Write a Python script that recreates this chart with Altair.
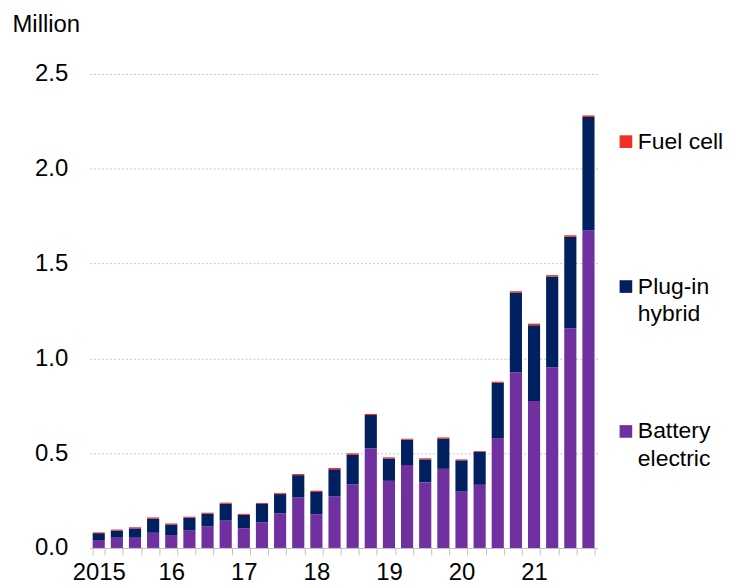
import altair as alt
import pandas as pd

# ---- data (millions of vehicles, quarterly) ----
quarters = [
    "2015Q1", "2015Q2", "2015Q3", "2015Q4",
    "2016Q1", "2016Q2", "2016Q3", "2016Q4",
    "2017Q1", "2017Q2", "2017Q3", "2017Q4",
    "2018Q1", "2018Q2", "2018Q3", "2018Q4",
    "2019Q1", "2019Q2", "2019Q3", "2019Q4",
    "2020Q1", "2020Q2", "2020Q3", "2020Q4",
    "2021Q1", "2021Q2", "2021Q3", "2021Q4",
]
battery_electric = [
    0.042, 0.054, 0.054, 0.080,
    0.068, 0.094, 0.113, 0.144,
    0.104, 0.135, 0.182, 0.266,
    0.177, 0.271, 0.335, 0.526,
    0.354, 0.437, 0.347, 0.417,
    0.297, 0.333, 0.578, 0.927,
    0.775, 0.953, 1.157, 1.674,
]
plug_in_hybrid = [
    0.036, 0.038, 0.049, 0.075,
    0.056, 0.066, 0.068, 0.089,
    0.071, 0.097, 0.102, 0.118,
    0.118, 0.144, 0.156, 0.175,
    0.118, 0.134, 0.120, 0.160,
    0.165, 0.174, 0.293, 0.420,
    0.400, 0.479, 0.484, 0.599,
]
fuel_cell = [
    0.004, 0.005, 0.006, 0.006,
    0.005, 0.005, 0.005, 0.006,
    0.005, 0.005, 0.005, 0.006,
    0.007, 0.007, 0.008, 0.006,
    0.006, 0.005, 0.006, 0.006,
    0.005, 0.004, 0.006, 0.007,
    0.008, 0.007, 0.008, 0.008,
]
year_label_quarters = ["2015Q1", "2016Q1", "2017Q1", "2018Q1", "2019Q1", "2020Q1", "2021Q1"]
year_labels = ["2015", "16", "17", "18", "19", "20", "21"]
y_ticks = [0.0, 0.5, 1.0, 1.5, 2.0, 2.5]

series_names = ["Battery electric", "Plug-in hybrid", "Fuel cell"]
series_colors = ["#7030A0", "#002060", "#EE3124"]
legend_order = ["Fuel cell", "Plug-in hybrid", "Battery electric"]
legend_text = ["Fuel cell", "Plug-in\nhybrid", "Battery\nelectric"]

# ---- long table ----
rows = []
for i, q in enumerate(quarters):
    for k, (name, vals) in enumerate(zip(series_names, [battery_electric, plug_in_hybrid, fuel_cell])):
        rows.append({"quarter": q, "type": name, "value": vals[i], "order": k})
df = pd.DataFrame(rows)

label_expr = "''"
for q, lab in reversed(list(zip(year_label_quarters, year_labels))):
    label_expr = f"datum.value == '{q}' ? '{lab}' : ({label_expr})"

FONT = "Liberation Sans"
FS = 24
LEG_FS = 23
color_scale = alt.Scale(domain=series_names, range=series_colors)

bars = alt.Chart(df).mark_bar().encode(
    x=alt.X(
        "quarter:N",
        sort=quarters,
        scale=alt.Scale(paddingInner=0.33, paddingOuter=0.165),
        axis=alt.Axis(
            title=None,
            labelExpr=label_expr,
            labelAngle=0,
            labelOverlap=False,
            labelFontSize=FS,
            labelColor="black",
            labelPadding=6,
            tickBand="extent",
            ticks=True,
            tickSize=7,
            tickColor="#BFBFBF",
            domainColor="#BFBFBF",
            grid=False,
        ),
    ),
    y=alt.Y(
        "value:Q",
        stack="zero",
        scale=alt.Scale(domain=[0, 2.5], nice=False),
        axis=alt.Axis(
            values=y_ticks,
            format=".1f",
            title="Million",
            titleAngle=0,
            titleX=-78,
            titleY=-50,
            titleAlign="left",
            titleBaseline="middle",
            titleFontSize=FS,
            titleFontWeight="normal",
            titleColor="black",
            labelFontSize=FS,
            labelColor="black",
            labelPadding=22,
            ticks=False,
            tickSize=0,
            domain=False,
            grid=True,
            gridColor="#C4C4C4",
            gridDash=[2, 2],
            gridWidth=1,
        ),
    ),
    color=alt.Color("type:N", scale=color_scale, legend=None),
    order=alt.Order("order:Q", sort="ascending"),
)

leg_df = pd.DataFrame({"type": legend_order, "label": legend_text})
leg_y = alt.Y(
    "type:N",
    sort=legend_order,
    scale=alt.Scale(type="point", range=[68, 359], padding=0),
    axis=None,
)
squares = alt.Chart(leg_df).mark_square(size=161, opacity=1).encode(
    x=alt.value(538.5),
    y=leg_y,
    color=alt.Color("type:N", scale=color_scale, legend=None),
)
texts = alt.Chart(leg_df).mark_text(
    align="left",
    baseline="alphabetic",
    dy=7,
    fontSize=LEG_FS,
    lineBreak="\n",
    lineHeight=27.7,
    color="black",
).encode(
    x=alt.value(550.5),
    y=leg_y,
    text="label:N",
)

chart = (
    alt.layer(bars, squares, texts)
    .resolve_scale(y="independent")
    .properties(width=510, height=476, padding={"left": 4, "top": 3, "right": 0, "bottom": 0})
    .configure(font=FONT)
    .configure_view(stroke="transparent")
)

chart.save("out.html", embed_options={"renderer": "svg", "actions": False})
